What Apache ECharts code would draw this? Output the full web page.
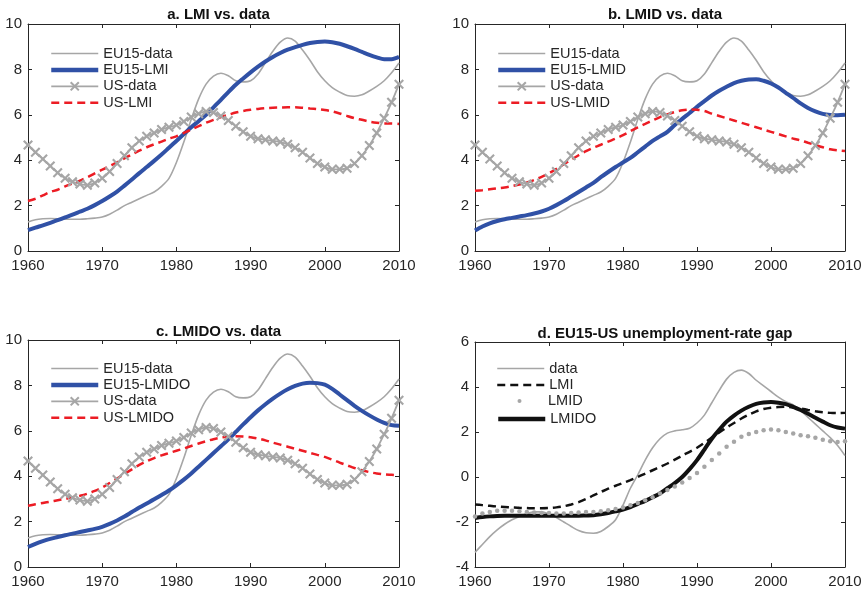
<!DOCTYPE html>
<html>
<head>
<meta charset="utf-8">
<script src="https://cdn.jsdelivr.net/npm/echarts@6/dist/echarts.min.js"></script>
<style>
  html, body { margin: 0; padding: 0; background: #fff; }
  #chart { width: 867px; height: 593px; }
</style>
</head>
<body>
<div id="chart"></div>
<script>
// years 1960..2010
var years = []
for (var y = 1960; y <= 2010; y++) years.push(y)

var titles = ['a. LMI vs. data', 'b. LMID vs. data', 'c. LMIDO vs. data', 'd. EU15-US unemployment-rate gap']

// unemployment rates, data
var euData = [1.28, 1.38, 1.42, 1.43, 1.42, 1.4, 1.4, 1.4, 1.42, 1.45,
  1.5, 1.62, 1.8, 2.0, 2.15, 2.3, 2.45, 2.6, 2.85, 3.2,
  3.9, 4.8, 5.8, 6.7, 7.35, 7.7, 7.83, 7.72, 7.5, 7.45,
  7.5, 7.8, 8.3, 8.8, 9.2, 9.38, 9.25, 8.85, 8.4, 7.9,
  7.5, 7.2, 7.0, 6.85, 6.82, 6.88, 7.05, 7.25, 7.5, 7.85, 8.28]
var usData = [4.67, 4.35, 4.05, 3.75, 3.45, 3.2, 3.05, 2.95, 2.9, 3.0,
  3.2, 3.5, 3.85, 4.2, 4.55, 4.85, 5.05, 5.2, 5.35, 5.45,
  5.55, 5.7, 5.9, 6.05, 6.15, 6.1, 5.95, 5.75, 5.5, 5.25,
  5.05, 4.95, 4.9, 4.85, 4.8, 4.7, 4.55, 4.35, 4.1, 3.85,
  3.7, 3.6, 3.6, 3.65, 3.85, 4.2, 4.65, 5.2, 5.85, 6.55, 7.35]

// model LMI
var euLMI = [0.92, 1.03, 1.13, 1.24, 1.36, 1.48, 1.6, 1.73, 1.86, 2.02,
  2.2, 2.4, 2.62, 2.88, 3.15, 3.43, 3.7, 3.97, 4.25, 4.55,
  4.85, 5.15, 5.45, 5.72, 6.0, 6.33, 6.66, 7.0, 7.32, 7.6,
  7.87, 8.12, 8.35, 8.55, 8.72, 8.87, 8.98, 9.08, 9.16, 9.21,
  9.23, 9.2, 9.13, 9.02, 8.9, 8.77, 8.64, 8.53, 8.45, 8.45, 8.55]
var usLMI = [2.2, 2.3, 2.45, 2.6, 2.7, 2.85, 2.97, 3.1, 3.25, 3.42,
  3.58, 3.75, 3.9, 4.08, 4.25, 4.42, 4.57, 4.7, 4.82, 4.95,
  5.05, 5.2, 5.35, 5.5, 5.65, 5.78, 5.9, 6.0, 6.1, 6.17,
  6.22, 6.26, 6.29, 6.31, 6.32, 6.33, 6.33, 6.31, 6.28, 6.25,
  6.21, 6.15, 6.06, 5.95, 5.85, 5.78, 5.7, 5.65, 5.62, 5.62, 5.6]

// model LMID
var euLMID = [0.9, 1.08, 1.22, 1.32, 1.4, 1.46, 1.52, 1.58, 1.65, 1.74,
  1.86, 2.02, 2.2, 2.4, 2.6, 2.8, 3.0, 3.25, 3.48, 3.7,
  3.9, 4.1, 4.35, 4.6, 4.85, 5.05, 5.25, 5.55, 5.82, 6.08,
  6.35, 6.6, 6.85, 7.06, 7.24, 7.4, 7.5, 7.56, 7.57, 7.5,
  7.38, 7.2, 6.97, 6.74, 6.5, 6.3, 6.15, 6.04, 5.99, 5.98, 6.0]
var usLMID = [2.65, 2.68, 2.72, 2.76, 2.8, 2.86, 2.93, 3.02, 3.13, 3.27,
  3.43, 3.62, 3.82, 4.02, 4.22, 4.4, 4.55, 4.68, 4.82, 4.95,
  5.1, 5.28, 5.45, 5.6, 5.75, 5.9, 6.02, 6.12, 6.2, 6.23,
  6.22, 6.17, 6.05, 5.95, 5.85, 5.75, 5.65, 5.55, 5.45, 5.35,
  5.25, 5.15, 5.05, 4.95, 4.87, 4.77, 4.67, 4.57, 4.48, 4.43, 4.4]

// model LMIDO
var euLMIDO = [0.88, 1.02, 1.14, 1.24, 1.32, 1.4, 1.47, 1.54, 1.61, 1.68,
  1.77, 1.9, 2.05, 2.22, 2.42, 2.62, 2.8, 2.98, 3.17, 3.37,
  3.6, 3.85, 4.12, 4.42, 4.72, 5.02, 5.32, 5.62, 5.95, 6.28,
  6.6, 6.9, 7.17, 7.42, 7.64, 7.83, 7.98, 8.08, 8.12, 8.1,
  8.03, 7.85, 7.6, 7.35, 7.1, 6.88, 6.68, 6.5, 6.35, 6.25, 6.22]
var usLMIDO = [2.7, 2.76, 2.82, 2.88, 2.94, 3.0, 3.07, 3.14, 3.23, 3.35,
  3.5, 3.7, 3.9, 4.1, 4.3, 4.5, 4.66, 4.8, 4.92, 5.02,
  5.12, 5.22, 5.33, 5.44, 5.54, 5.63, 5.7, 5.74, 5.76, 5.75,
  5.72, 5.66, 5.58, 5.48, 5.39, 5.3, 5.21, 5.12, 5.03, 4.94,
  4.85, 4.73, 4.6, 4.48, 4.36, 4.26, 4.18, 4.12, 4.08, 4.06, 4.04]

// EU15-US gap
var gapData = [-3.35, -3.0, -2.65, -2.35, -2.1, -1.9, -1.75, -1.62, -1.55, -1.55,
  -1.65, -1.8, -2.0, -2.2, -2.38, -2.48, -2.5, -2.42, -2.2, -1.9,
  -1.25, -0.5, 0.1, 0.75, 1.3, 1.7, 1.95, 2.05, 2.1, 2.17,
  2.4, 2.75, 3.3, 3.85, 4.35, 4.65, 4.75, 4.6, 4.3, 4.05,
  3.8, 3.55, 3.35, 3.2, 2.95, 2.65, 2.35, 2.05, 1.75, 1.4, 0.95]
var gapLMI = [-1.22, -1.25, -1.28, -1.31, -1.33, -1.35, -1.37, -1.38, -1.39, -1.39,
  -1.38, -1.35, -1.3, -1.22, -1.12, -0.98, -0.82, -0.67, -0.52, -0.39,
  -0.27, -0.14, 0.0, 0.15, 0.3, 0.45, 0.6, 0.77, 0.95, 1.12,
  1.3, 1.52, 1.75, 1.98, 2.2, 2.4, 2.6, 2.77, 2.92, 3.02,
  3.08, 3.11, 3.12, 3.09, 3.05, 2.98, 2.92, 2.88, 2.85, 2.84, 2.85]
var gapLMID = [-1.75, -1.62, -1.55, -1.5, -1.5, -1.5, -1.52, -1.55, -1.58, -1.6,
  -1.6, -1.62, -1.62, -1.6, -1.58, -1.55, -1.55, -1.52, -1.48, -1.42,
  -1.35, -1.25, -1.15, -1.03, -0.9, -0.73, -0.58, -0.42, -0.24, -0.04,
  0.18, 0.46, 0.76, 1.05, 1.35, 1.57, 1.79, 1.91, 2.0, 2.08,
  2.11, 2.08, 2.0, 1.93, 1.86, 1.81, 1.75, 1.66, 1.59, 1.56, 1.59]
var gapLMIDO = [-1.82, -1.78, -1.75, -1.73, -1.72, -1.72, -1.72, -1.72, -1.72, -1.72,
  -1.72, -1.72, -1.72, -1.72, -1.72, -1.71, -1.7, -1.66, -1.6, -1.53,
  -1.45, -1.34, -1.2, -1.06, -0.9, -0.73, -0.5, -0.27, 0.0, 0.35,
  0.75, 1.22, 1.7, 2.1, 2.46, 2.73, 2.95, 3.12, 3.25, 3.31,
  3.33, 3.3, 3.24, 3.12, 2.98, 2.81, 2.63, 2.46, 2.3, 2.2, 2.15]

var GRAY = '#a6a6a6'
var BLUE = '#3051a6'
var RED = '#ec1c24'
var AXIS = '#262626'
var FONT = 'Liberation Sans, Arial, Helvetica, sans-serif'
var XMARK = 'path://M0,1.5L1.5,0L5,3.5L8.5,0L10,1.5L6.5,5L10,8.5L8.5,10L5,6.5L1.5,10L0,8.5L3.5,5Z'

// grid boxes: a, b, c, d
var boxes = [
  { left: 28, top: 24, width: 371, height: 227 },
  { left: 475, top: 24, width: 370, height: 227 },
  { left: 28, top: 340, width: 371, height: 227 },
  { left: 475, top: 342, width: 370, height: 225 },
]
var yRanges = [[0, 10], [0, 10], [0, 10], [-4, 6]]
var titleTops = [2, 2, 319, 321]

function pairs(vals) {
  return years.map(function (yr, i) { return [yr, vals[i]] })
}

var grids = [], xAxes = [], yAxes = [], series = [], title = []
boxes.forEach(function (b, p) {
  grids.push({ left: b.left, top: b.top, width: b.width, height: b.height, outerBoundsMode: 'none' })
  // bottom + top x axis (box look, ticks inward)
  xAxes.push({
    type: 'value', gridIndex: p, min: 1960, max: 2010, interval: 10,
    axisLine: { onZero: false, lineStyle: { color: AXIS, width: 1 } },
    axisTick: { inside: true, length: 4, lineStyle: { color: AXIS } },
    axisLabel: { color: AXIS, fontSize: 15, fontFamily: FONT, margin: 7, formatter: function (v) { return String(v) } },
    splitLine: { show: false },
  })
  xAxes.push({
    type: 'value', gridIndex: p, position: 'top', min: 1960, max: 2010, interval: 10,
    axisLine: { onZero: false, lineStyle: { color: AXIS, width: 1 } },
    axisTick: { inside: true, length: 4, lineStyle: { color: AXIS } },
    axisLabel: { show: false }, splitLine: { show: false },
  })
  yAxes.push({
    type: 'value', gridIndex: p, min: yRanges[p][0], max: yRanges[p][1], interval: 2,
    axisLine: { show: true, onZero: false, lineStyle: { color: AXIS, width: 1 } },
    axisTick: { show: true, inside: true, length: 4, lineStyle: { color: AXIS } },
    axisLabel: { color: AXIS, fontSize: 15, fontFamily: FONT, margin: 6 },
    splitLine: { show: false },
  })
  yAxes.push({
    type: 'value', gridIndex: p, position: 'right', min: yRanges[p][0], max: yRanges[p][1], interval: 2,
    axisLine: { show: true, onZero: false, lineStyle: { color: AXIS, width: 1 } },
    axisTick: { show: true, inside: true, length: 4, lineStyle: { color: AXIS } },
    axisLabel: { show: false }, splitLine: { show: false },
  })
  title.push({
    text: titles[p], left: b.left + b.width / 2, top: titleTops[p], textAlign: 'center',
    textStyle: { fontSize: 15, fontWeight: 'bold', color: '#111', fontFamily: FONT },
  })
})

function line(name, p, vals, color, width, dash, extra) {
  var s = {
    name: name, type: 'line', xAxisIndex: 2 * p, yAxisIndex: 2 * p,
    data: pairs(vals), smooth: 0.3, symbol: 'none', silent: true,
    lineStyle: { color: color, width: width, type: dash || 'solid' },
    itemStyle: { color: color },
  }
  return Object.assign(s, extra || {})
}
var usMark = { symbol: XMARK, symbolSize: 10, showSymbol: true }

// panel a
series.push(line('EU15-data', 0, euData, GRAY, 1.6))
series.push(line('EU15-LMI', 0, euLMI, BLUE, 4))
series.push(line('US-data', 0, usData, GRAY, 1.8, null, usMark))
series.push(line('US-LMI', 0, usLMI, RED, 2.5, [8, 5]))
// panel b
series.push(line('EU15-data', 1, euData, GRAY, 1.6))
series.push(line('EU15-LMID', 1, euLMID, BLUE, 4))
series.push(line('US-data', 1, usData, GRAY, 1.8, null, usMark))
series.push(line('US-LMID', 1, usLMID, RED, 2.5, [8, 5]))
// panel c
series.push(line('EU15-data', 2, euData, GRAY, 1.6))
series.push(line('EU15-LMIDO', 2, euLMIDO, BLUE, 4))
series.push(line('US-data', 2, usData, GRAY, 1.8, null, usMark))
series.push(line('US-LMIDO', 2, usLMIDO, RED, 2.5, [8, 5]))
// panel d
series.push(line('data', 3, gapData, GRAY, 1.6))
series.push(line('LMI', 3, gapLMI, '#111', 2.5, [8, 5]))
series.push(line('LMID', 3, gapLMID, GRAY, 0, null, {
  symbol: 'circle', symbolSize: 4.5, showSymbol: true, smooth: false,
  lineStyle: { width: 0, opacity: 0, color: GRAY },
}))
series.push(line('LMIDO', 3, gapLMIDO, '#111', 4))

// legend items: plain lines hide the default symbol, line widths set explicitly
function item(name, w, dash, withMark) {
  var it = { name: name, lineStyle: { width: w, type: dash || 'solid' } }
  if (!withMark) it.itemStyle = { opacity: 0 }
  return it
}
function legend(items, left, top, ih) {
  return {
    data: items, orient: 'vertical', left: left, top: top, padding: 0,
    itemWidth: 47, itemHeight: ih, itemGap: 1.4, selectedMode: false,
    textStyle: { fontSize: 14.5, color: AXIS, fontFamily: FONT },
  }
}
var legends = [
  legend([item('EU15-data', 1.6), item('EU15-LMI', 4.5), item('US-data', 1.8, null, true), item('US-LMI', 2.5, [8, 5])], 49, 46, 12),
  legend([item('EU15-data', 1.6), item('EU15-LMID', 4.5), item('US-data', 1.8, null, true), item('US-LMID', 2.5, [8, 5])], 496, 46, 12),
  legend([item('EU15-data', 1.6), item('EU15-LMIDO', 4.5), item('US-data', 1.8, null, true), item('US-LMIDO', 2.5, [8, 5])], 49, 361, 12),
  legend([item('data', 1.6), item('LMI', 2.5, [8, 5])], 496, 361, 12),
  legend([{ name: 'LMID', lineStyle: { width: 0, opacity: 0 } }], 496, 393.5, 5),
  legend([item('LMIDO', 4.5)], 496, 411.5, 12),
]

var myChart = echarts.init(document.getElementById('chart'), null, { renderer: 'canvas' })
myChart.setOption({
  animation: false,
  backgroundColor: '#fff',
  title: title,
  legend: legends,
  grid: grids,
  xAxis: xAxes,
  yAxis: yAxes,
  series: series,
})
</script>
</body>
</html>
